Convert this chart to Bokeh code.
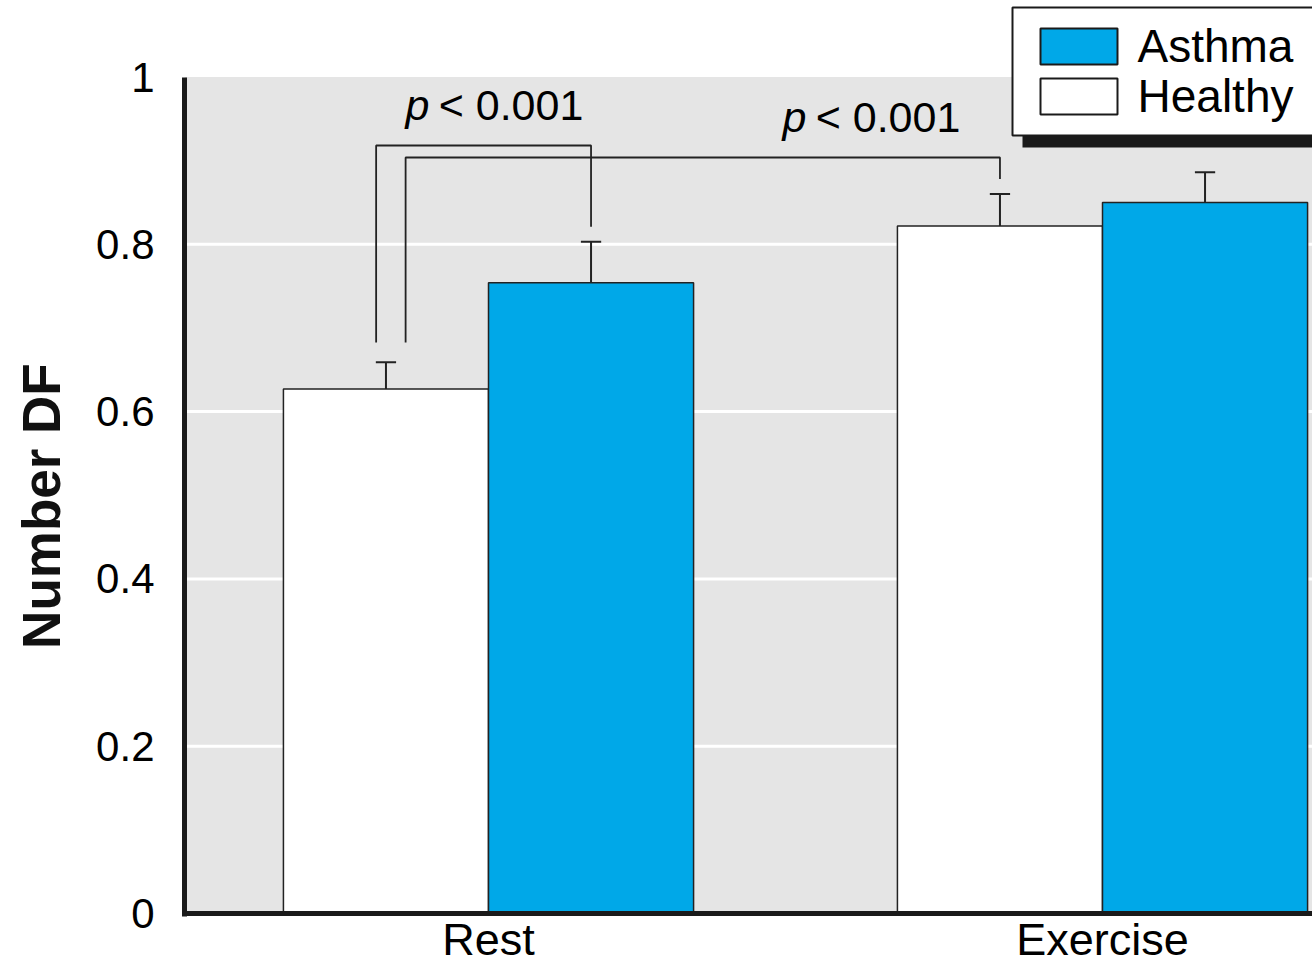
from bokeh.plotting import figure
from bokeh.models import FixedTicker, Range1d
from bokeh.core.properties import value
from bokeh.embed import file_html
from bokeh.resources import INLINE

# ---- data ----
categories = ["Rest", "Exercise"]
healthy = [0.627, 0.822]
healthy_err = [0.659, 0.860]
asthma = [0.754, 0.850]
asthma_err = [0.803, 0.886]
y_ticks = [0, 0.2, 0.4, 0.6, 0.8, 1.0]
y_tick_labels = ["0", "0.2", "0.4", "0.6", "0.8", "1"]
series_names = ["Asthma", "Healthy"]
sig_text = ["p", "< 0.001"]

FONT = "Liberation Sans"
BLUE = "#00a8e8"
EDGE = "#222222"
AXIS = "#1a1a1a"

W, H = 1312, 967
FRAME_L = 184          # px of left frame edge
ZERO_PX, PX_PER_UNIT = 913, 836.5
TXT_SHIFT = 18         # renderer places alphabetic baseline this much lower

cat_x = list(range(len(categories)))
off = 0.167
bw = 0.334
cap = 0.0165
hx = [c - off for c in cat_x]
ax = [c + off for c in cat_x]

X0 = (FRAME_L - 488) / 614
X1 = (W - 488) / 614
Y0 = -(H - ZERO_PX) / PX_PER_UNIT
Y1 = ZERO_PX / PX_PER_UNIT


def px_x(px):
    return X0 + (px - FRAME_L) * (X1 - X0) / (W - FRAME_L)


def px_y(py):
    return (ZERO_PX - py) / PX_PER_UNIT


def base_y(py):
    return px_y(py - TXT_SHIFT)


p = figure(width=W, height=H,
           x_range=Range1d(X0, X1), y_range=Range1d(Y0, Y1),
           output_backend="svg", toolbar_location=None,
           min_border_left=FRAME_L, min_border_right=0, min_border_top=0, min_border_bottom=0,
           background_fill_color="white", border_fill_color="white",
           outline_line_color=None)

p.xgrid.visible = False
p.ygrid.visible = False
p.xaxis.visible = False

# gray plotting area and white gridlines
p.quad(left=[X0], right=[X1], bottom=[0], top=[y_ticks[-1]], fill_color="#e5e5e5", line_color=None)
p.segment(x0=[X0] * 4, x1=[X1] * 4, y0=y_ticks[1:-1], y1=y_ticks[1:-1],
          line_color="white", line_width=3)

# bars
p.vbar(x=hx, top=healthy, bottom=0, width=bw, fill_color="white",
       line_color=EDGE, line_width=1.5)
p.vbar(x=ax, top=asthma, bottom=0, width=bw, fill_color=BLUE,
       line_color=EDGE, line_width=1.5)

# error bars
for xs, tops, errs in ((hx, healthy, healthy_err), (ax, asthma, asthma_err)):
    p.segment(x0=xs, y0=tops, x1=xs, y1=errs, line_color=EDGE, line_width=2)
    p.segment(x0=[x - cap for x in xs], y0=errs, x1=[x + cap for x in xs], y1=errs,
              line_color=EDGE, line_width=2)

# x axis line and category labels
p.segment(x0=[X0], x1=[X1], y0=[0], y1=[0], line_color=AXIS, line_width=5)
p.text(x=cat_x, y=[base_y(957)] * len(cat_x), text=categories, text_font=value(FONT),
       text_font_size="45px", text_color="black", text_align="center",
       text_baseline="alphabetic")

# significance brackets
b1_top, b2_top = px_y(145), px_y(157)
gap_l, gap_r = 0.0235, 0.018
p.multi_line(
    xs=[[hx[0] - 0.016, hx[0] - 0.016, ax[0], ax[0]],
        [hx[0] + 0.032, hx[0] + 0.032, hx[1], hx[1]]],
    ys=[[healthy_err[0] + gap_l, b1_top, b1_top, asthma_err[0] + gap_r],
        [healthy_err[0] + gap_l, b2_top, b2_top, healthy_err[1] + gap_r]],
    line_color=EDGE, line_width=1.8)

# p labels
lab_x = [px_x(405), px_x(782)]
lab_y = [base_y(122), base_y(134)]
p.text(x=lab_x, y=lab_y, text=[sig_text[0]] * 2, text_font=value(FONT),
       text_font_style="italic", text_font_size="43px", text_color="black",
       text_baseline="alphabetic")
p.text(x=[v + 0.054 for v in lab_x], y=lab_y, text=[sig_text[1]] * 2,
       text_font=value(FONT), text_font_size="43px", text_color="black",
       text_baseline="alphabetic")

# legend (drawn by hand: shadow, box, swatches, labels)
p.quad(left=[px_x(1022)], right=[X1 + 0.1], top=[px_y(19)], bottom=[px_y(147)],
       fill_color=AXIS, line_color=None)
p.quad(left=[px_x(1012)], right=[X1 + 0.1], top=[px_y(7)], bottom=[px_y(135)],
       fill_color="white", line_color=AXIS, line_width=2)
p.quad(left=[px_x(1040)] * 2, right=[px_x(1117)] * 2,
       top=[px_y(28), px_y(78)], bottom=[px_y(64), px_y(114)],
       fill_color=[BLUE, "white"], line_color=AXIS, line_width=2)
p.text(x=[px_x(1137)] * 2, y=[base_y(63), base_y(113)], text=series_names,
       text_font=value(FONT), text_font_size="46px", text_color="black",
       text_baseline="alphabetic")

# y axis
p.yaxis.ticker = FixedTicker(ticks=y_ticks)
p.yaxis.major_label_overrides = {t: l for t, l in zip(y_ticks, y_tick_labels)}
p.yaxis.bounds = (-0.003, 1)
ya = p.yaxis[0]
ya.axis_line_width = 5
ya.axis_line_color = AXIS
ya.major_tick_line_color = None
ya.minor_tick_line_color = None
ya.major_tick_out = 0
ya.major_tick_in = 0
ya.minor_tick_out = 0
ya.minor_tick_in = 0
ya.major_label_text_font = FONT
ya.major_label_text_color = "black"
ya.major_label_text_font_size = "42px"
ya.major_label_standoff = 30
ya.axis_label = "Number DF" + "\u00a0" * 3
ya.axis_label_text_font = FONT
ya.axis_label_text_font_style = "bold"
ya.axis_label_text_font_size = "53px"
ya.axis_label_text_color = "#111111"
ya.axis_label_standoff = 22

open("out.html", "w").write(file_html(p, INLINE))
